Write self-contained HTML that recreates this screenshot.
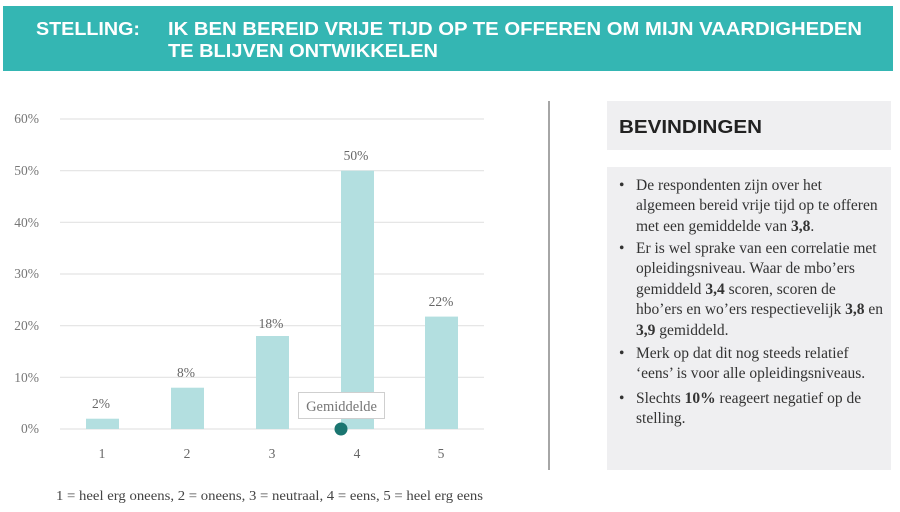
<!DOCTYPE html>
<html><head><meta charset="utf-8"><style>
html,body{margin:0;padding:0;background:#fff;}
svg{display:block}
</style></head><body>
<svg width="900" height="512" viewBox="0 0 900 512" xmlns="http://www.w3.org/2000/svg">
<rect x="3" y="6" width="890" height="65" fill="#34b6b3"/>
<g font-family="Liberation Sans, sans-serif" font-weight="bold" font-size="18" fill="#fff">
<text x="36" y="35" textLength="104" lengthAdjust="spacingAndGlyphs">STELLING:</text>
<text x="168" y="35" textLength="694" lengthAdjust="spacingAndGlyphs">IK BEN BEREID VRIJE TIJD OP TE OFFEREN OM MIJN VAARDIGHEDEN</text>
<text x="168" y="57" textLength="270" lengthAdjust="spacingAndGlyphs">TE BLIJVEN ONTWIKKELEN</text>
</g>
<g stroke="#e3e3e3" stroke-width="1.2">
<line x1="60" y1="119" x2="484" y2="119"/><line x1="60" y1="170.7" x2="484" y2="170.7"/>
<line x1="60" y1="222.3" x2="484" y2="222.3"/><line x1="60" y1="274" x2="484" y2="274"/>
<line x1="60" y1="325.7" x2="484" y2="325.7"/><line x1="60" y1="377.3" x2="484" y2="377.3"/>
<line x1="60" y1="429" x2="484" y2="429"/>
</g>
<g font-family="Liberation Serif, serif" font-size="13.5" fill="#777" text-anchor="end">
<text x="39" y="123">60%</text><text x="39" y="175">50%</text><text x="39" y="227">40%</text>
<text x="39" y="278">30%</text><text x="39" y="330">20%</text><text x="39" y="382">10%</text><text x="39" y="433">0%</text>
</g>
<g fill="#b3dfe0">
<rect x="86" y="418.7" width="33" height="10.3"/>
<rect x="171" y="387.7" width="33" height="41.3"/>
<rect x="256" y="336" width="33" height="93"/>
<rect x="341" y="170.7" width="33" height="258.3"/>
<rect x="425" y="316.6" width="33" height="112.4"/>
</g>
<g font-family="Liberation Serif, serif" font-size="13.5" fill="#666" text-anchor="middle">
<text x="101" y="408">2%</text><text x="186" y="377">8%</text><text x="271" y="328">18%</text>
<text x="356" y="160">50%</text><text x="441" y="306">22%</text>
<text x="102" y="458">1</text><text x="187" y="458">2</text><text x="272" y="458">3</text><text x="357" y="458">4</text><text x="441" y="458">5</text>
</g>
<rect x="298.5" y="392.5" width="86" height="26" fill="#fff" stroke="#cfcfcf"/>
<text x="341.5" y="411" font-family="Liberation Serif, serif" font-size="14.5" fill="#777" text-anchor="middle">Gemiddelde</text>
<circle cx="341" cy="429" r="6.5" fill="#1a7570"/>
<text x="56" y="500" font-family="Liberation Serif, serif" font-size="13.5" fill="#444" textLength="427" lengthAdjust="spacingAndGlyphs">1 = heel erg oneens, 2 = oneens, 3 = neutraal, 4 = eens, 5 = heel erg eens</text>
<line x1="549" y1="101" x2="549" y2="470" stroke="#888" stroke-width="1.5"/>
<rect x="607" y="101" width="284" height="49" fill="#efeff1"/>
<text x="619" y="133" font-family="Liberation Sans, sans-serif" font-weight="bold" font-size="18" fill="#222" textLength="143" lengthAdjust="spacingAndGlyphs">BEVINDINGEN</text>
<rect x="607" y="167" width="284" height="303" fill="#efeff1"/>
<g font-family="Liberation Serif, serif" font-size="15.5" fill="#333">
<text x="619" y="190">•</text><text x="619" y="253">•</text><text x="619" y="358">•</text><text x="619" y="403">•</text>
<text x="636" y="190">De respondenten zijn over het</text>
<text x="636" y="210">algemeen bereid vrije tijd op te offeren</text>
<text x="636" y="231">met een gemiddelde van <tspan font-weight="bold">3,8</tspan>.</text>
<text x="636" y="253">Er is wel sprake van een correlatie met</text>
<text x="636" y="273">opleidingsniveau. Waar de mbo’ers</text>
<text x="636" y="294">gemiddeld <tspan font-weight="bold">3,4</tspan> scoren, scoren de</text>
<text x="636" y="314">hbo’ers en wo’ers respectievelijk <tspan font-weight="bold">3,8</tspan> en</text>
<text x="636" y="335"><tspan font-weight="bold">3,9</tspan> gemiddeld.</text>
<text x="636" y="358">Merk op dat dit nog steeds relatief</text>
<text x="636" y="378">‘eens’ is voor alle opleidingsniveaus.</text>
<text x="636" y="403">Slechts <tspan font-weight="bold">10%</tspan>  reageert negatief op de</text>
<text x="636" y="423">stelling.</text>
</g>
</svg>
</body></html>
